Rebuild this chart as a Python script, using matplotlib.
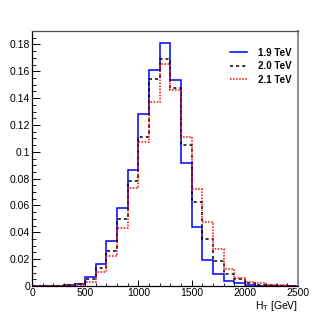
#!/usr/bin/env python3
"""
H_T distributions for three signal masses (1.9, 2.0, 2.1 TeV),
normalised to unit area, drawn as step histograms.
"""

import numpy as np
import matplotlib
matplotlib.use("Agg")
import matplotlib.pyplot as plt
import matplotlib.ticker as mticker

# ── Data ───────────────────────────────────────────────────────────────────
bin_edges = np.arange(0, 2600, 100)  # GeV, 25 bins of 100 GeV

ht_19 = [0.0001, 0.0001, 0.0002, 0.0005, 0.0015, 0.0065, 0.0164, 0.0335,
         0.0579, 0.0864, 0.1280, 0.1606, 0.1807, 0.1534, 0.0918, 0.0442,
         0.0194, 0.0087, 0.0040, 0.0020, 0.0005, 0.0002, 0.0001, 0.0, 0.0]
ht_20 = [0.0001, 0.0001, 0.0002, 0.0004, 0.0012, 0.0050, 0.0136, 0.0263,
         0.0499, 0.0784, 0.1112, 0.1539, 0.1693, 0.1472, 0.1052, 0.0623,
         0.0350, 0.0189, 0.0087, 0.0052, 0.0025, 0.0010, 0.0004, 0.0002, 0.0001]
ht_21 = [0.0001, 0.0001, 0.0002, 0.0003, 0.0010, 0.0032, 0.0107, 0.0223,
         0.0434, 0.0730, 0.1075, 0.1372, 0.1651, 0.1460, 0.1107, 0.0720,
         0.0474, 0.0273, 0.0127, 0.0057, 0.0032, 0.0020, 0.0008, 0.0005, 0.0003]

labels = ["1.9 TeV", "2.0 TeV", "2.1 TeV"]

# ── Style (ROOT-like) ──────────────────────────────────────────────────────
plt.rcParams.update({
    "font.family": ["Liberation Sans", "DejaVu Sans"],
    "font.size": 7.5,
    "mathtext.default": "regular",
    "axes.linewidth": 0.9,
    "xtick.direction": "in",
    "ytick.direction": "in",
    "xtick.major.size": 4.5,
    "ytick.major.size": 5.5,
    "xtick.minor.size": 2.3,
    "ytick.minor.size": 2.8,
    "xtick.major.width": 0.7,
    "ytick.major.width": 0.7,
    "xtick.minor.width": 0.6,
    "ytick.minor.width": 0.6,
    "xtick.major.pad": 1.5,
    "ytick.major.pad": 1.5,
})

fig = plt.figure(figsize=(3.32, 3.19), dpi=100)
ax = fig.add_axes([0.0964, 0.1034, 0.8012, 0.7994])

ax.stairs(ht_19, bin_edges, color="#0000ff", lw=1.1, label=labels[0])
ax.stairs(ht_20, bin_edges, color="black", lw=1.1, ls=(0, (2, 2)),
          label=labels[1])
ax.stairs(ht_21, bin_edges, color="#ff0000", lw=1.1, ls=(0, (1, 1)),
          label=labels[2])

ax.set_xlim(0, 2500)
ax.set_ylim(0, 0.19)

ax.xaxis.set_major_locator(mticker.MultipleLocator(500))
ax.xaxis.set_minor_locator(mticker.MultipleLocator(100))
ax.yaxis.set_major_locator(mticker.MultipleLocator(0.02))
ax.yaxis.set_minor_locator(mticker.MultipleLocator(0.005))
ax.yaxis.set_major_formatter(mticker.FuncFormatter(lambda v, _: f"{v:g}"))
ax.tick_params(which="both", top=False, right=False, labelsize=7.5)

ax.spines["top"].set_color("0.3")
ax.spines["right"].set_color("0.55")
ax.spines["right"].set_linewidth(1.4)

ax.set_xlabel("H$_{T}$ [GeV]", fontsize=7.5, labelpad=0)
ax.xaxis.set_label_coords(1.0, -0.05)
ax.xaxis.label.set_ha("right")

ax.legend(loc="upper left", bbox_to_anchor=(0.694, 0.85),
          bbox_transform=fig.transFigure, frameon=False,
          handlelength=1.75, handletextpad=1.1, labelspacing=0.35,
          borderpad=0, borderaxespad=0,
          prop={"size": 7, "weight": "bold"})

fig.savefig("out.png", dpi=100)
